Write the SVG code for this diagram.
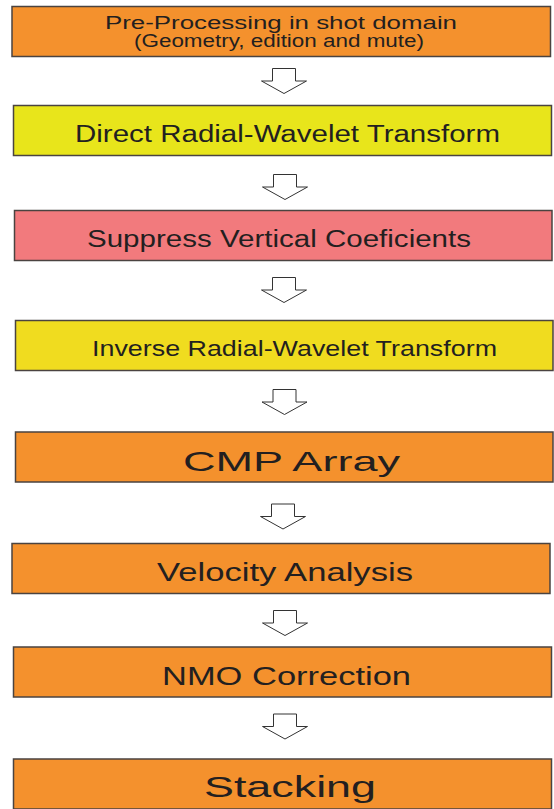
<svg xmlns="http://www.w3.org/2000/svg" width="554" height="809" viewBox="0 0 554 809">
<defs>
<style>
.box{stroke:#4a4340;stroke-width:1.5}
.orange{fill:#F4912D}
.yellow1{fill:#E8E51B}
.yellow2{fill:#F0DC1F}
.pink{fill:#F27A7D}
.t{font-family:"Liberation Sans",Arial,sans-serif;fill:#231F20;text-anchor:middle}
.arrow{fill:#fff;stroke:#333;stroke-width:1}
</style>
<path id="arr" d="M-11.5,0 H11.5 V12.5 H22.5 L0,25 L-22.5,12.5 H-11.5 Z"/>
</defs>
<rect width="554" height="809" fill="#fff"/>

<g id="n1">
<rect class="box orange" x="12" y="6.5" width="538.5" height="50"/>
<text class="t" x="281" y="29" font-size="17.5" textLength="352" lengthAdjust="spacingAndGlyphs">Pre-Processing in shot domain</text>
<text class="t" x="279" y="47" font-size="17.5" textLength="290" lengthAdjust="spacingAndGlyphs">(Geometry, edition and mute)</text>
</g>
<g id="n2">
<rect class="box yellow1" x="13.5" y="105.5" width="538" height="50"/>
<text class="t" x="287.5" y="142" font-size="23.5" textLength="425" lengthAdjust="spacingAndGlyphs">Direct Radial-Wavelet Transform</text>
</g>
<g id="n3">
<rect class="box pink" x="14.5" y="210.5" width="537.5" height="50"/>
<text class="t" x="279" y="247" font-size="23.5" textLength="384" lengthAdjust="spacingAndGlyphs">Suppress Vertical Coeficients</text>
</g>
<g id="n4">
<rect class="box yellow2" x="15.5" y="320.5" width="537.5" height="50"/>
<text class="t" x="294.5" y="356" font-size="22.5" textLength="405" lengthAdjust="spacingAndGlyphs">Inverse Radial-Wavelet Transform</text>
</g>
<g id="n5">
<rect class="box orange" x="15.5" y="432" width="537.5" height="50"/>
<text class="t" x="291.5" y="471" font-size="28" textLength="217" lengthAdjust="spacingAndGlyphs">CMP Array</text>
</g>
<g id="n6">
<rect class="box orange" x="12" y="543.5" width="538" height="50"/>
<text class="t" x="285" y="581" font-size="25" textLength="256" lengthAdjust="spacingAndGlyphs">Velocity Analysis</text>
</g>
<g id="n7">
<rect class="box orange" x="13.5" y="647" width="538" height="50"/>
<text class="t" x="286.5" y="685" font-size="25" textLength="249" lengthAdjust="spacingAndGlyphs">NMO Correction</text>
</g>
<g id="n8">
<rect class="box orange" x="13.5" y="759" width="538" height="50"/>
<text class="t" x="290" y="797" font-size="29" textLength="172" lengthAdjust="spacingAndGlyphs">Stacking</text>
</g>

<g id="connectors">
<use href="#arr" class="arrow" x="284" y="68.5"/>
<use href="#arr" class="arrow" x="285" y="174.5"/>
<use href="#arr" class="arrow" x="284" y="277.5"/>
<use href="#arr" class="arrow" x="284.5" y="389.5"/>
<use href="#arr" class="arrow" x="283" y="504"/>
<use href="#arr" class="arrow" x="285" y="610.5"/>
<use href="#arr" class="arrow" x="285" y="714"/>
</g>
</svg>
